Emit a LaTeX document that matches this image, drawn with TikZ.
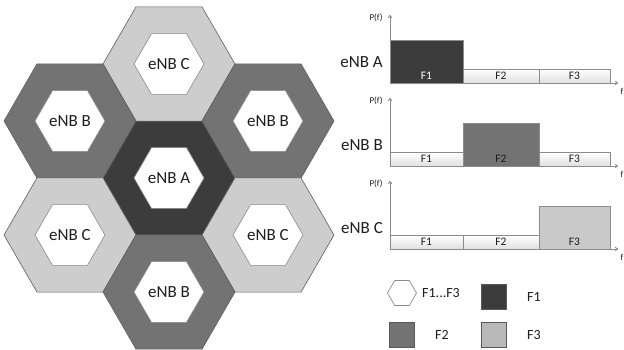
\documentclass[tikz,border=0pt]{standalone}
\usepackage{fontspec}
\setmainfont{Carlito}
\usetikzlibrary{shapes.geometric,arrows.meta}
\definecolor{cA}{HTML}{3C3C3C}
\definecolor{cB}{HTML}{737373}
\definecolor{cC}{HTML}{CDCDCD}
\definecolor{cCbar}{HTML}{C9C9C9}
\definecolor{cF3}{HTML}{B9B9B9}
\definecolor{hexline}{HTML}{5E5E5E}
\definecolor{innerline}{HTML}{8A8A8A}
\definecolor{axisgray}{HTML}{8C8C8C}
\definecolor{txt}{HTML}{1E1E1E}
\begin{document}
\begin{tikzpicture}[x=1pt,y=-1pt,
  outerhex/.style={regular polygon, regular polygon sides=6, minimum size=132pt,
    inner sep=0pt, outer sep=0pt, draw=hexline, line width=0.6pt},
  innerhex/.style={regular polygon, regular polygon sides=6, minimum size=70pt,
    inner sep=0pt, outer sep=0pt, draw=innerline, fill=white, line width=0.6pt,
    text=txt, font=\fontsize{17}{18}\selectfont},
  axisline/.style={draw=axisgray, line width=0.9pt, -{To[length=3pt,width=4pt]}},
  band/.style={draw=axisgray, line width=0.7pt, top color=white, bottom color=black!12},
  tallbar/.style={draw=axisgray, line width=0.7pt},
  flab/.style={font=\fontsize{11.5}{12}\selectfont, inner sep=0pt},
  pflab/.style={font=\fontsize{9}{10}\selectfont, text=txt, inner sep=0pt},
  enblab/.style={font=\fontsize{17}{18}\selectfont, text=txt, inner sep=0pt, anchor=east},
  legsq/.style={draw=black!65, line width=0.7pt, minimum size=25pt, inner sep=0pt},
  legtxt/.style={font=\fontsize{14}{15}\selectfont, text=txt, anchor=west, inner sep=0pt}]
\useasboundingbox (0,0) rectangle (624,349);
\fill[white] (0,0) rectangle (624,349);

% honeycomb
\node[outerhex, fill=cA] (hA)  at (169,178) {};
\node[outerhex, fill=cC] (hC1) at (169,64) {};
\node[outerhex, fill=cB] (hB1) at (70,121) {};
\node[outerhex, fill=cB] (hB2) at (268,121) {};
\node[outerhex, fill=cC] (hC2) at (70,235) {};
\node[outerhex, fill=cC] (hC3) at (268,235) {};
\node[outerhex, fill=cB] (hB3) at (169,292) {};
\node[innerhex] (iA)  at (hA)  {eNB A};
\node[innerhex] (iC1) at (hC1) {eNB C};
\node[innerhex] (iB1) at (hB1) {eNB B};
\node[innerhex] (iB2) at (hB2) {eNB B};
\node[innerhex] (iC2) at (hC2) {eNB C};
\node[innerhex] (iC3) at (hC3) {eNB C};
\node[innerhex] (iB3) at (hB3) {eNB B};

% spectrum charts
\foreach \yb/\lab/\hi/\hc/\tc in {83/A/1/cA/white, 166/B/2/cB/txt, 249/C/3/cCbar/txt}{
  \draw[axisline] (390,\yb) -- (390,\yb-68);
  \draw[axisline] (390,\yb) -- (618,\yb);
  \foreach \i/\xa/\xb in {1/390/463, 2/463/539, 3/539/610}{
    \ifnum\i=\hi
      \draw[tallbar, fill=\hc] (\xa,\yb) rectangle (\xb,\yb-43);
      \def\lc{\tc}
    \else
      \draw[band] (\xa,\yb) rectangle (\xb,\yb-14);
      \def\lc{txt}
    \fi
    \node[flab, text=\lc] at ({(\xa+\xb)/2},\yb-7) {F\i};
  }
  \node[pflab] at (376,\yb-65) {P(f)};
  \node[pflab] at (622,\yb+8) {f};
  \node[enblab] at (383,\yb-21) {eNB \lab};
}

% legend
\node[regular polygon, regular polygon sides=6, minimum size=29pt, inner sep=0pt,
      draw=black!45, line width=0.7pt, fill=white] (lhex) at (402,293) {};
\node[legtxt] (lt0) at (422,293) {F1...F3};
\node[legsq, fill=cA] (lsq1) at (493.5,296.5) {};
\node[legtxt] (lt1) at (527,297) {F1};
\node[legsq, fill=cB] (lsq2) at (401.5,335) {};
\node[legtxt] (lt2) at (435,335) {F2};
\node[legsq, fill=cF3] (lsq3) at (493.5,335) {};
\node[legtxt] (lt3) at (527,335) {F3};
\end{tikzpicture}
\end{document}
